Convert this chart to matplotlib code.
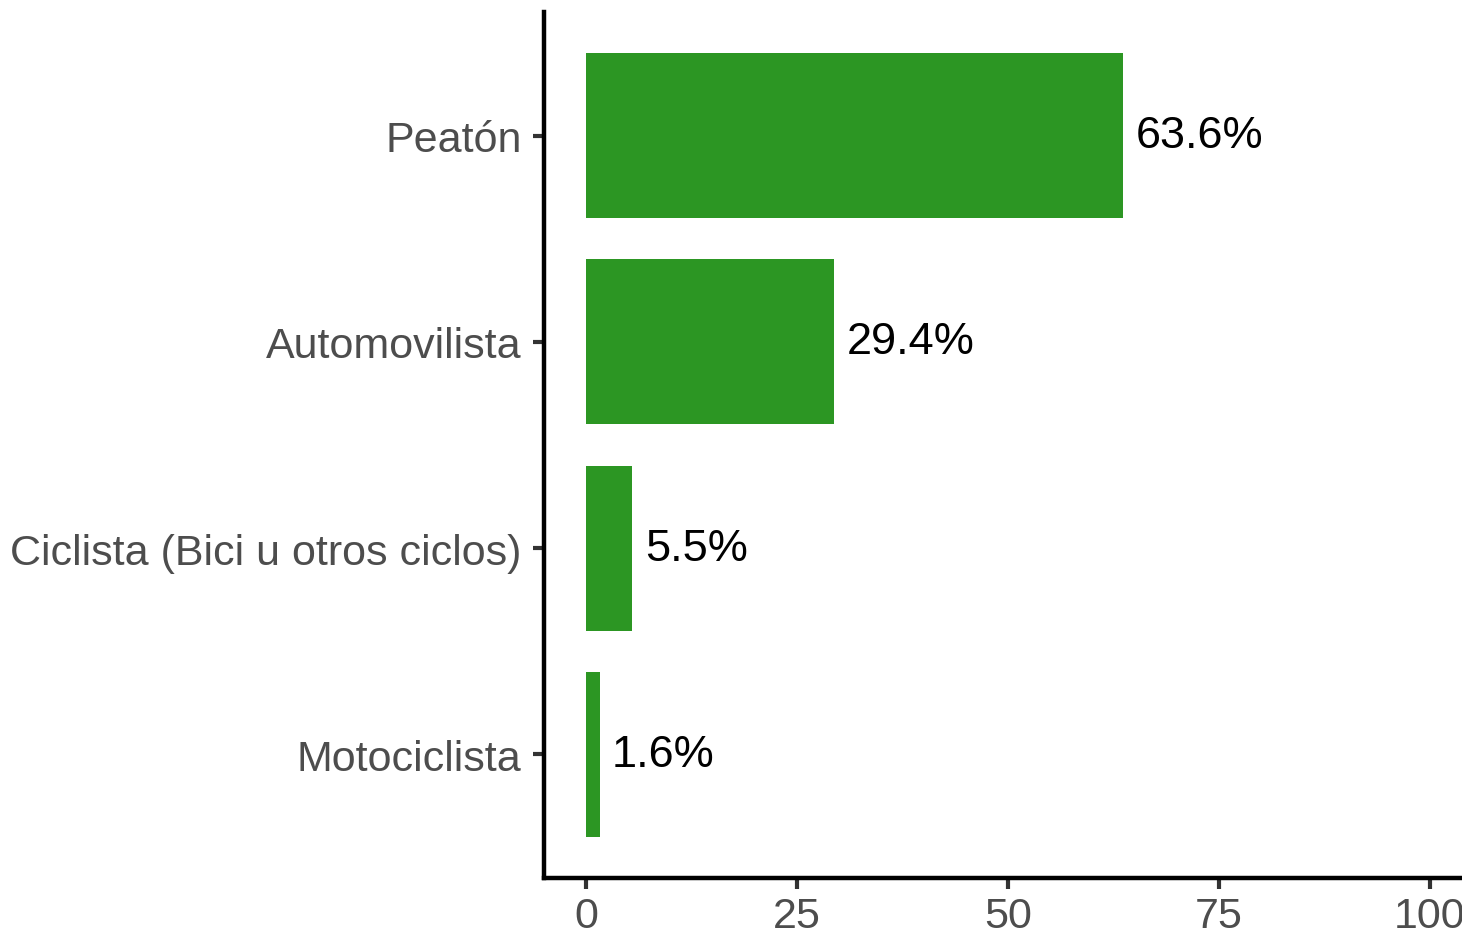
import matplotlib.pyplot as plt

# Data
categories = ['Peatón', 'Automovilista', 'Ciclista (Bici u otros ciclos)', 'Motociclista']
values = [63.6, 29.4, 5.5, 1.6]
labels = ['63.6%', '29.4%', '5.5%', '1.6%']
xticks = [0, 25, 50, 75, 100]

plt.rcParams['font.family'] = ['Liberation Sans', 'DejaVu Sans']

fig = plt.figure(figsize=(14.62, 9.37), dpi=100)
ax = fig.add_axes([0.3720, 0.0619, 0.6350, 0.9242])

ypos = list(range(len(categories), 0, -1))
ax.barh(ypos, values, height=0.8, color='#2c9623')

for y, v, t in zip(ypos, values, labels):
    ax.annotate(t, (v, y), xytext=(9, 0), textcoords='offset points',
                va='center', ha='left', fontsize=32.5, color='black')

ax.set_xlim(-5, 105)
ax.set_ylim(0.4, 4.6)
ax.set_xticks(xticks)
ax.set_xticklabels([str(x) for x in xticks])
ax.set_yticks(ypos)
ax.set_yticklabels(categories)

for s in ['top', 'right']:
    ax.spines[s].set_visible(False)
for s in ['left', 'bottom']:
    ax.spines[s].set_linewidth(3.2)
    ax.spines[s].set_color('black')

ax.tick_params(axis='both', length=8, width=3, color='#333333',
               labelsize=31, labelcolor='#4d4d4d')
ax.tick_params(axis='y', pad=8)
ax.tick_params(axis='x', pad=5)

fig.savefig('out.png', dpi=100)
